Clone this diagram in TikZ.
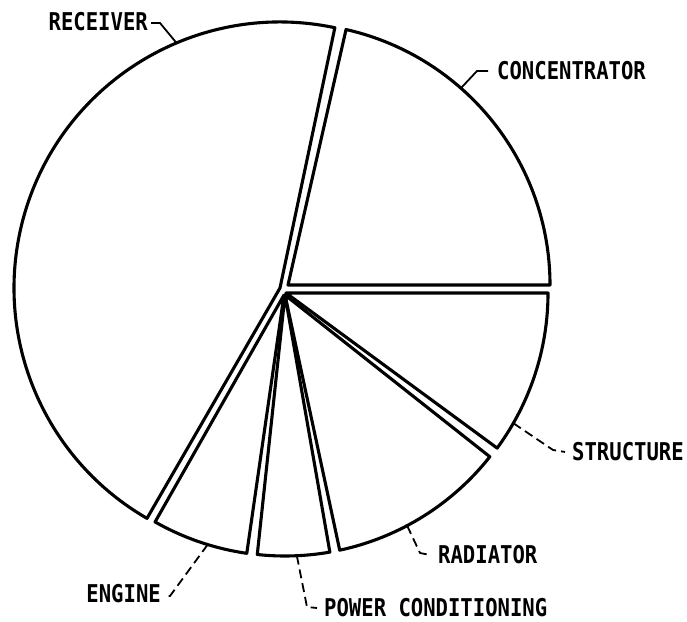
\documentclass[tikz,border=0pt]{standalone}
\usepackage{fontspec}
\usetikzlibrary{calc}
\newfontfamily\labfont{DejaVu Sans Mono}[FakeStretch=0.84]
\begin{document}
\begin{tikzpicture}[x=1bp,y=1bp,
  sector/.style={draw=black, line width=3.1bp, line join=round, fill=white},
  leader/.style={draw=black, line width=1.8bp, line join=round},
  dashleader/.style={leader, dash pattern=on 9bp off 5bp},
  lbl/.style={inner sep=0pt, font=\labfont\bfseries\fontsize{24.5bp}{26bp}\selectfont}]
\useasboundingbox (0,0) rectangle (687,622);
% apexes of the (slightly exploded) sectors
\coordinate (R) at (280,334);
\coordinate (C) at (288,337);
\coordinate (S) at (286,329);
\coordinate (D) at (285,327);
\coordinate (P) at (285,327);
\coordinate (E) at (284,327);
% sectors
\draw[sector] (R) -- ++(78.1:266bp) arc[start angle=78.1, end angle=240, radius=266bp] -- cycle;
\draw[sector] (C) -- ++(0:262bp) arc[start angle=0, end angle=77.2, radius=262bp] -- cycle;
\draw[sector] (S) -- ++(-36.3:262bp) arc[start angle=-36.3, end angle=0, radius=262bp] -- cycle;
\draw[sector] (D) -- ++(-77.9:261bp) arc[start angle=-77.9, end angle=-38.3, radius=261bp] -- cycle;
\draw[sector] (P) -- ++(-96.1:261bp) arc[start angle=-96.1, end angle=-80.1, radius=261bp] -- cycle;
\draw[sector] (E) -- ++(-119.6:261bp) arc[start angle=-119.6, end angle=-98.2, radius=261bp] -- cycle;
% points on the arcs where leaders end
\coordinate (recarc) at ($(R)+(112.9:266bp)$);
\coordinate (conarc) at ($(C)+(48.7:262bp)$);
\coordinate (strarc) at ($(S)+(-29.8:262bp)$);
\coordinate (radarc) at ($(D)+(-62.1:261bp)$);
\coordinate (pcarc)  at ($(P)+(-87.4:261bp)$);
\coordinate (engarc) at ($(E)+(-107:261bp)$);
% labels
\node[lbl, anchor=east] (rec) at (148,600) {RECEIVER};
\node[lbl, anchor=west] (con) at (497,551) {CONCENTRATOR};
\node[lbl, anchor=west] (str) at (572,170) {STRUCTURE};
\node[lbl, anchor=west] (rad) at (438,67) {RADIATOR};
\node[lbl, anchor=west] (pc)  at (324,14) {POWER CONDITIONING};
\node[lbl, anchor=east] (eng) at (161,28) {ENGINE};
% leaders
\coordinate (recel) at (160,599);
\coordinate (conel) at (477,551);
\coordinate (strel) at (553,172);
\coordinate (radel) at (420,69);
\coordinate (pcel)  at (307,15);
\coordinate (engel) at (170,26);
\draw[leader] ([xshift=3bp,yshift=-1bp]rec.east) -- (recel) -- (recarc);
\draw[leader] ([xshift=-9bp]con.west) -- (conel) -- (conarc);
\draw[dashleader] (strarc) -- (strel) -- ([xshift=-7bp]str.west);
\draw[dashleader] (radarc) -- (radel) -- ([xshift=-8bp]rad.west);
\draw[dashleader] (pcarc) -- (pcel) -- ([xshift=-7bp]pc.west);
\draw[dashleader] (engarc) -- (engel) -- ([xshift=4bp,yshift=-2bp]eng.east);
\end{tikzpicture}
\end{document}
